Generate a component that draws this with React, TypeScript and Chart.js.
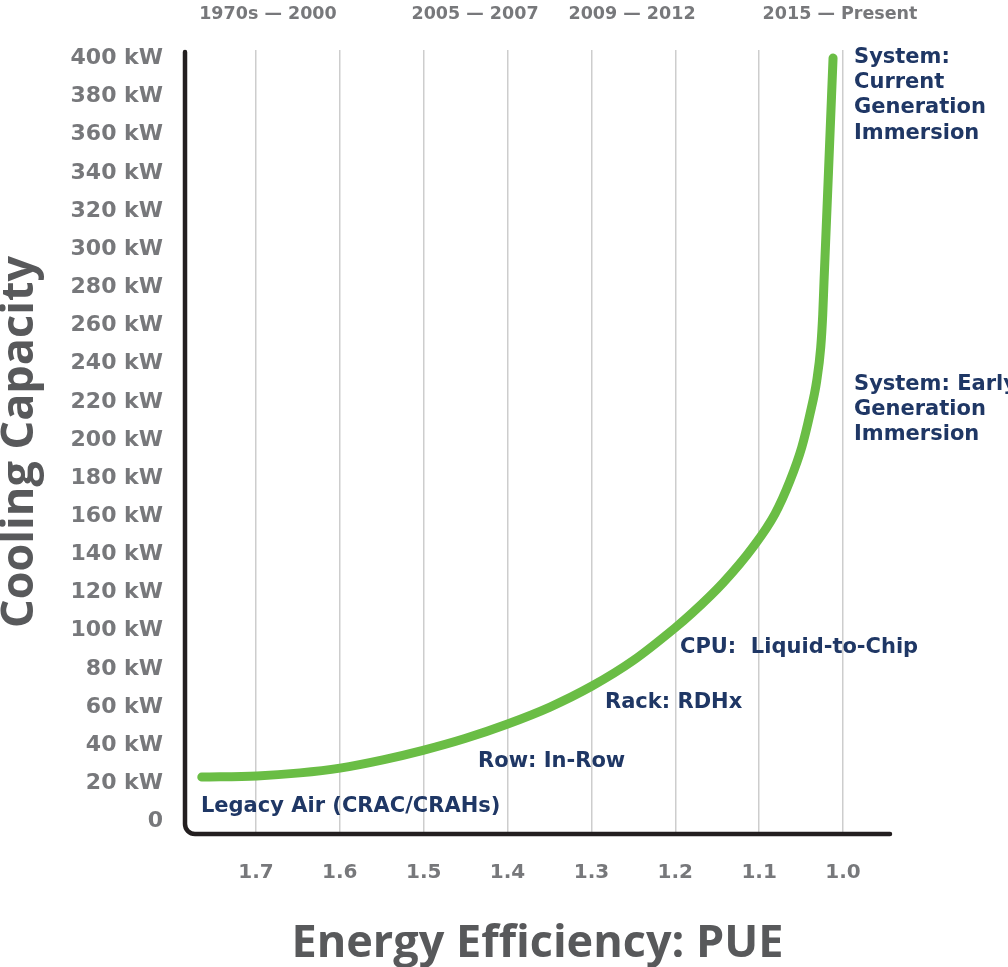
import React, { useEffect, useRef } from 'react';
import { Chart, registerables } from 'chart.js';

Chart.register(...registerables);

// PUE (x) and cooling capacity in kW (y) along the curve
const pueValues = [1.7646, 1.6988, 1.6475, 1.5998, 1.5486, 1.5008, 1.4508, 1.4007, 1.3494, 1.2993, 1.2504, 1.2003, 1.1801, 1.1431, 1.1073, 1.0811, 1.0632, 1.0492, 1.0394, 1.0314, 1.0266, 1.0242, 1.0227, 1.0173, 1.0119];
const capacityKW = [23.3, 23.9, 25.5, 28.0, 32.3, 37.3, 43.5, 51.0, 60.0, 71.0, 84.3, 101.5, 109.2, 125.1, 143.9, 161.3, 178.7, 196.2, 213.6, 230.9, 248.5, 265.8, 282.8, 341.0, 400.2];

const xTickValues = [1.7, 1.6, 1.5, 1.4, 1.3, 1.2, 1.1, 1.0];
const yTickValues = [0, 20, 40, 60, 80, 100, 120, 140, 160, 180, 200, 220, 240, 260, 280, 300, 320, 340, 360, 380, 400];

// era labels along the top (anchored at PUE)
const eraLabels = ['1970s — 2000', '2005 — 2007', '2009 — 2012', '2015 — Present'];
const eraPUE = [1.6857, 1.4388, 1.2516, 1.0036];

// cooling technology annotations (anchored at PUE / kW, left aligned)
const noteLines = [
  ['Legacy Air (CRAC/CRAHs)'],
  ['Row: In-Row'],
  ['Rack: RDHx'],
  ['CPU:  Liquid-to-Chip'],
  ['System: Early', 'Generation', 'Immersion'],
  ['System:', 'Current', 'Generation', 'Immersion'],
];
const notePUE = [1.7656, 1.4352, 1.2838, 1.1944, 0.9869, 0.9869];
const noteKW = [8.0, 31.2, 62.6, 91.4, 229.3, 400.5];

const TITLE_FONT = '"Open Sans", "Noto Sans", sans-serif';
const FONT = '"DejaVu Sans", "Open Sans", sans-serif';
const GRAY = '#77787b';
const DARK = '#58595b';
const NAVY = '#1f3765';
const GREEN = '#6abd45';

const overlayPlugin = {
  id: 'overlay',
  beforeDatasetsDraw(chart: any) {
    const { ctx, chartArea } = chart;
    const { left, right, top, bottom } = chartArea;
    ctx.save();
    ctx.strokeStyle = '#231f20';
    ctx.lineWidth = 4.5;
    ctx.lineCap = 'round';
    ctx.lineJoin = 'round';
    const r = 10;
    ctx.beginPath();
    ctx.moveTo(left, top + 2);
    ctx.lineTo(left, bottom - r);
    ctx.arcTo(left, bottom, left + r, bottom, r);
    ctx.lineTo(right, bottom);
    ctx.stroke();
    ctx.restore();
  },
  afterDatasetsDraw(chart: any) {
    const { ctx } = chart;
    const xs = chart.scales.x;
    const ys = chart.scales.y;
    ctx.save();
    ctx.fillStyle = GRAY;
    ctx.font = `bold 17.5px ${FONT}`;
    ctx.textAlign = 'center';
    ctx.textBaseline = 'middle';
    eraLabels.forEach((t, i) => {
      ctx.fillText(t, xs.getPixelForValue(eraPUE[i]), 14);
    });
    ctx.fillStyle = NAVY;
    ctx.font = `bold 21px ${FONT}`;
    ctx.textAlign = 'left';
    noteLines.forEach((lines, i) => {
      const x = xs.getPixelForValue(notePUE[i]);
      const y0 = ys.getPixelForValue(noteKW[i]);
      lines.forEach((t, j) => ctx.fillText(t, x, y0 + j * 25.3));
    });
    ctx.restore();
  },
};

export default function App() {
  const ref = useRef<HTMLCanvasElement | null>(null);
  useEffect(() => {
    if (!ref.current) return;
    const chart = new Chart(ref.current, {
      type: 'line',
      data: {
        datasets: [
          {
            data: pueValues.map((x, i) => ({ x, y: capacityKW[i] })),
            borderColor: GREEN,
            borderWidth: 9,
            borderCapStyle: 'round',
            borderJoinStyle: 'round',
            pointRadius: 0,
            cubicInterpolationMode: 'monotone',
            fill: false,
          },
        ],
      },
      options: {
        animation: false,
        responsive: false,
        maintainAspectRatio: false,
        layout: { padding: { top: 50, right: 118, left: 0, bottom: 0 } },
        plugins: { legend: { display: false }, tooltip: { enabled: false } },
        scales: {
          x: {
            type: 'linear',
            reverse: true,
            min: 0.944,
            max: 1.7846,
            afterBuildTicks: (s: any) => {
              s.ticks = xTickValues.map((v) => ({ value: v }));
            },
            afterFit: (s: any) => {
              s.height = 133;
            },
            grid: { display: true, color: '#cdcdcd', lineWidth: 1.5, drawTicks: false },
            border: { display: false },
            ticks: {
              autoSkip: false,
              maxRotation: 0,
              padding: 27,
              color: GRAY,
              font: { family: FONT, size: 20, weight: 'bold' },
              callback: (v: any) => Number(v).toFixed(1),
            },
            title: {
              display: true,
              text: 'Energy Efficiency: PUE',
              color: DARK,
              font: { family: TITLE_FONT, size: 45, weight: 'bold', lineHeight: 1 },
              padding: { top: 0, bottom: 0 },
            },
          },
          y: {
            type: 'linear',
            min: -6.55,
            max: 404.4,
            afterBuildTicks: (s: any) => {
              s.ticks = yTickValues.map((v) => ({ value: v }));
            },
            afterFit: (s: any) => {
              s.width = 185;
            },
            grid: { display: false, drawTicks: false },
            border: { display: false },
            ticks: {
              autoSkip: false,
              padding: 22,
              color: GRAY,
              font: { family: FONT, size: 22, weight: 'bold' },
              callback: (v: any) => (Number(v) === 0 ? '0' : `${v} kW`),
            },
            title: {
              display: true,
              text: 'Cooling Capacity',
              color: DARK,
              font: { family: TITLE_FONT, size: 45, weight: 'bold', lineHeight: 0.9 },
              padding: { top: 0, bottom: 0 },
            },
          },
        },
      },
      plugins: [overlayPlugin],
    } as any);
    return () => chart.destroy();
  }, []);
  return (
    <div style={{ position: 'absolute', left: 0, top: 0, width: 1008, height: 967, background: '#fff' }}>
      <canvas ref={ref} width={1008} height={967} style={{ width: 1008, height: 967 }} />
    </div>
  );
}
